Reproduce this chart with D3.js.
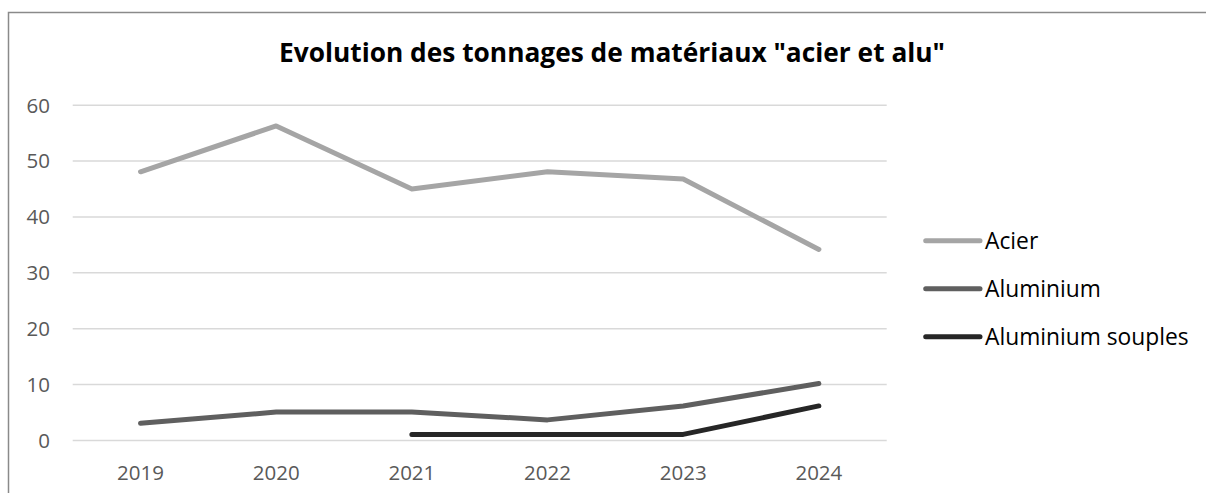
<!DOCTYPE html>
<html>
<head>
<meta charset="utf-8">
<script src="https://cdn.jsdelivr.net/npm/d3@7"></script>
<style>
  html, body { margin: 0; padding: 0; background: #fff; }
  svg { display: block; }
</style>
</head>
<body>
<svg id="chart" width="1206" height="493"></svg>
<script>
const years = ["2019", "2020", "2021", "2022", "2023", "2024"];
const acier = [48, 56.2, 44.9, 48, 46.7, 34.1];
const aluminium = [3, 5, 5, 3.6, 6.1, 10.1];
const aluminiumSouples = [null, null, 1, 1, 1, 6.1];
const yTicks = [0, 10, 20, 30, 40, 50, 60];
const seriesNames = ["Acier", "Aluminium", "Aluminium souples"];
const seriesColors = ["#a5a5a5", "#5f5f5f", "#262626"];
const title = "Evolution des tonnages de matériaux \"acier et alu\"";

const seriesValues = [acier, aluminium, aluminiumSouples];

const W = 1206, H = 493;
const plot = { left: 72.7, right: 886.7, top: 104.7, bottom: 440 };
const svg = d3.select("#chart");
const font = "'Open Sans', 'Liberation Sans', sans-serif";

// chart border (top + left visible)
svg.append("rect")
  .attr("x", 8.5).attr("y", 12.5)
  .attr("width", W + 10).attr("height", H + 10)
  .attr("fill", "#fff")
  .attr("stroke", "#8a8a8a").attr("stroke-width", 1.5);

const x = d3.scaleBand().domain(years).range([plot.left, plot.right]).padding(0);
const y = d3.scaleLinear().domain([0, 60]).range([plot.bottom, plot.top]);

// gridlines
const yAxis = d3.axisLeft(y).tickValues(yTicks).tickSize(-(plot.right - plot.left)).tickPadding(22.7);
const gy = svg.append("g").attr("transform", `translate(${plot.left},0)`).call(yAxis);
gy.select(".domain").remove();
gy.selectAll(".tick line").attr("stroke", "#d9d9d9").attr("stroke-width", 1.5);
gy.selectAll(".tick text")
  .attr("fill", "#595959").attr("font-family", font).attr("font-size", 20.5)
  .attr("dy", "0.36em");

// x axis labels
const xAxis = d3.axisBottom(x).tickSize(0).tickPadding(0);
const gx = svg.append("g").attr("transform", `translate(0,${plot.bottom})`).call(xAxis);
gx.select(".domain").remove();
gx.selectAll(".tick text")
  .attr("fill", "#595959").attr("font-family", font).attr("font-size", 20.5)
  .attr("dy", 0).attr("y", 40);

// lines
const line = d3.line()
  .defined(d => d.v !== null)
  .x(d => x(d.year) + x.bandwidth() / 2)
  .y(d => y(d.v));

seriesValues.forEach((vals, i) => {
  svg.append("path")
    .datum(years.map((yr, j) => ({ year: yr, v: vals[j] })))
    .attr("d", line)
    .attr("fill", "none")
    .attr("stroke", seriesColors[i])
    .attr("stroke-width", 5)
    .attr("stroke-linecap", "round")
    .attr("stroke-linejoin", "round");
});

// legend
const legendY = d3.scalePoint().domain(seriesNames).range([240.7, 336.7]);
const lg = svg.append("g");
seriesNames.forEach((name, i) => {
  const ly = legendY(name);
  lg.append("line")
    .attr("x1", 925.7).attr("x2", 980)
    .attr("y1", ly).attr("y2", ly)
    .attr("stroke", seriesColors[i]).attr("stroke-width", 5)
    .attr("stroke-linecap", "round");
  lg.append("text")
    .attr("x", 985).attr("y", ly).attr("dy", "0.36em")
    .attr("font-family", font).attr("font-size", 22.8)
    .attr("fill", "#000")
    .text(name);
});

// title
svg.append("text")
  .attr("x", 612).attr("y", 62)
  .attr("text-anchor", "middle")
  .attr("font-family", font).attr("font-weight", "bold").attr("font-size", 26.3)
  .attr("fill", "#000")
  .text(title);
</script>
</body>
</html>
